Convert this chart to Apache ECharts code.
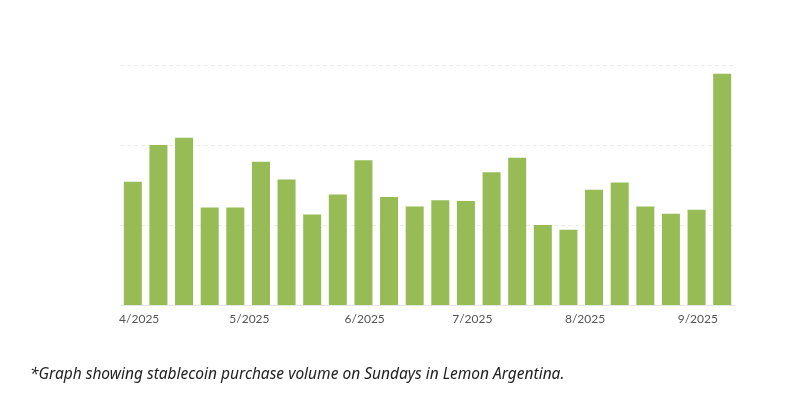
<!DOCTYPE html>
<html><head><meta charset="utf-8">
<script src="https://cdn.jsdelivr.net/npm/echarts@6/dist/echarts.min.js"></script>
<style>html,body{margin:0;padding:0;background:#fff}#c{width:789px;height:401px}</style>
</head><body><div id="c"></div>
<script>
const weeks = ['W1','W2','W3','W4','W5','W6','W7','W8','W9','W10','W11','W12','W13','W14','W15','W16','W17','W18','W19','W20','W21','W22','W23','W24'];
const volumes = [1.54,2.0,2.09,1.22,1.22,1.79,1.57,1.13,1.38,1.81,1.35,1.23,1.31,1.3,1.66,1.84,1.0,0.94,1.44,1.53,1.23,1.14,1.19,2.89];
const monthLabels = ['4/2025','5/2025','6/2025','7/2025','8/2025','9/2025'];
const monthPositions = [7,50,95,137,181,225]; // sub-slots (10 per week)
const SUB = 10;
const subCats = [];
for (let i = 0; i < weeks.length * SUB; i++) subCats.push('');
monthPositions.forEach((p, k) => subCats[p] = monthLabels[k]);
const chart = echarts.init(document.getElementById('c'));
chart.setOption({
  animation: false,
  title: {
    text: '*Graph showing stablecoin purchase volume on Sundays in Lemon Argentina.',
    left: 25, top: 362,
    textStyle: {fontFamily: 'Noto Sans', fontStyle: 'italic', fontWeight: 'normal', fontSize: 15.5, color: '#222'}
  },
  grid: {left: 120, right: 54, top: 65, bottom: 96},
  xAxis: [
    {type: 'category', data: weeks, axisLine: {show: true, lineStyle: {color: '#e6e6e6'}}, axisTick: {show: false}, axisLabel: {show: false}},
    {type: 'category', data: subCats, position: 'bottom', axisLine: {show: false}, axisTick: {show: false},
     axisLabel: {interval: 0, color: '#555', fontFamily: 'Lato', fontSize: 12, margin: 8}}
  ],
  yAxis: {type: 'value', min: 0, max: 3, interval: 1, axisLabel: {show: false},
    splitLine: {lineStyle: {color: '#ebebeb', type: [4, 3]}}},
  series: [{type: 'bar', data: volumes, barWidth: 18, itemStyle: {color: '#97bc55'}}]
});
</script></body></html>
